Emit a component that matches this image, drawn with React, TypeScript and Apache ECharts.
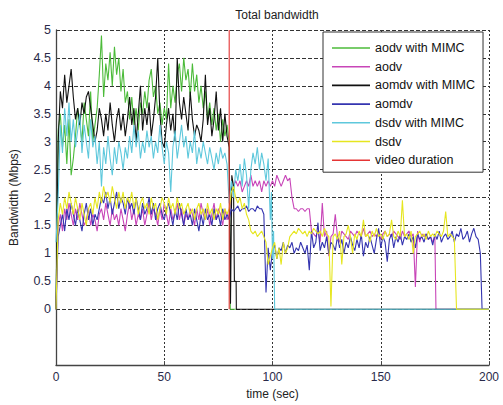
import { useEffect, useRef } from 'react';
import * as echarts from 'echarts';

// Throughput samples in Mbps, one value per second starting at t = 0 s.
const aodvMimcRate = [
  0, 3.2, 3.5, 2.9, 3.3, 2.6, 3.4, 2.4, 2.7, 3.1,
  3.6, 3.3, 3.0, 3.7, 3.4, 3.1, 3.9, 3.0, 3.3, 3.6,
  4.2, 4.9, 3.8, 4.4, 4.1, 4.6, 4.0, 4.7, 4.2, 4.5,
  3.9, 4.3, 3.7, 3.9, 3.4, 3.8, 3.3, 3.6, 3.2, 3.7,
  3.5, 3.9, 3.6, 4.1, 4.3, 3.8, 4.0, 3.5, 3.7, 3.3,
  3.6, 3.4, 4.4, 3.6, 4.0, 3.7, 4.2, 4.4, 3.9, 4.5,
  4.1, 4.3, 3.8, 4.4, 3.9, 4.2, 3.7, 4.0, 3.6, 3.9,
  3.4, 3.7, 3.3, 3.6, 3.2, 3.5, 3.0, 3.4, 3.1, 3.3,
  3.0,
];
const aodvMimcEnd = [[80.5, 0], [83, 0]];

const aodvRate = [
  0, 1.5, 1.7, 1.4, 1.8, 1.6, 1.9, 1.7, 1.5, 1.8,
  1.6, 1.9, 1.7, 1.5, 1.6, 1.8, 1.5, 1.7, 1.6, 1.4,
  1.7, 1.8, 1.6, 1.9, 1.7, 1.5, 1.8, 1.6, 1.7, 1.5,
  1.8, 1.6, 1.4, 1.7, 1.9, 1.6, 1.8, 1.5, 1.7, 1.6,
  1.8, 1.5, 1.7, 1.9, 1.6, 1.8, 1.7, 1.5, 1.8, 1.6,
  1.9, 1.7, 1.5, 1.8, 1.6, 1.7, 1.9, 1.6, 1.8, 1.5,
  1.7, 1.6, 1.8, 1.7, 1.5, 1.8, 1.6, 1.9, 1.7, 1.6,
  1.8, 1.5, 1.7, 1.9, 1.6, 1.8, 1.7, 1.5, 1.8, 1.6,
  1.7, 2.1, 2.2, 2.3, 2.2, 2.3, 2.1, 2.2, 2.3, 2.2,
  2.4, 2.2, 2.3, 2.2, 2.3, 2.1, 2.3, 2.2, 2.3, 2.2,
  2.3, 2.2, 2.4, 2.3, 2.2, 2.3, 2.4, 2.3, 2.35, 2.0,
  1.8, 1.8, 1.75, 1.8, 1.8, 1.75, 1.8, 1.8, 1.4, 1.35,
  1.3, 1.4, 1.2, 1.9, 1.3, 1.4, 0.95, 1.3, 1.35, 1.7,
  1.3, 1.2, 1.4, 1.35, 1.3, 1.25, 1.4, 1.35, 1.3, 1.4,
  1.35, 1.3, 1.45, 1.3, 1.35, 1.4, 1.3, 1.35, 1.3, 1.4,
  1.25, 1.35, 1.4, 1.3, 1.35, 1.3, 1.4, 1.35, 1.3, 1.25,
  1.4, 1.3, 1.35, 1.4, 1.3, 1.35, 0.4, 1.4, 1.2, 1.35,
  1.3, 1.35, 1.25, 1.3, 1.2, 1.3,
];
const aodvEnd = [[175.5, 0], [200, 0]];

const aomdvMimcRate = [
  0, 3.0, 3.9, 3.6, 4.2, 3.7, 4.0, 4.3, 3.8, 3.4,
  3.6, 3.3, 3.7, 3.5, 3.8, 3.9, 3.6, 3.3, 3.0, 3.2,
  3.6, 3.4, 3.1, 3.5, 3.2, 3.7, 3.3, 3.0, 3.4, 3.6,
  3.2, 3.5, 3.1, 3.4, 3.8, 3.3, 3.6, 3.0, 3.5, 4.0,
  3.2, 3.6, 3.3, 3.7, 3.1, 3.4, 3.8, 4.5, 3.5, 3.0,
  2.9, 3.3, 3.6, 3.2, 3.5, 3.0, 4.5, 3.7, 3.4, 3.8,
  3.5, 3.2, 3.9, 3.4, 3.1, 3.3, 3.2, 3.0, 3.4, 4.2,
  3.3, 3.6, 3.1, 3.4, 3.9, 3.2, 3.6, 3.0, 3.5, 3.1,
  2.9,
];
const aomdvMimcEnd = [[80.6, 0.1], [81.2, 2.4], [82, 2.2], [82.4, 0.5], [83.2, 0.5], [83.3, 0], [200, 0]];

const aomdvRate = [
  0, 1.3, 1.5, 1.7, 1.4, 1.8, 1.6, 1.9, 1.7, 1.5,
  1.8, 1.6, 1.4, 1.7, 1.9, 1.6, 1.8, 1.5, 1.7, 1.6,
  1.8, 2.0, 1.9, 2.1, 1.8, 2.0, 1.7, 1.9, 2.1, 1.8,
  2.0, 1.9, 1.7, 2.0, 1.8, 1.9, 1.7, 2.0, 1.8, 1.6,
  1.9, 1.7, 1.8, 2.0, 1.7, 1.9, 1.6, 1.8, 1.9, 1.7,
  1.6, 1.8, 1.9, 1.7, 1.5, 1.8, 1.6, 1.9, 1.7, 1.5,
  1.8, 1.6, 1.7, 1.5, 1.8, 1.6, 1.4, 1.7, 1.5, 1.8,
  1.6, 1.7, 1.5, 1.8, 1.6, 1.7, 1.5, 1.8, 1.6, 1.7,
  1.6, 1.8, 1.75, 1.8, 1.85, 1.75, 1.8, 1.8, 1.85, 1.75,
  1.8, 1.8, 1.75, 1.85, 1.8, 1.8, 1.7, 0.3, 1.1, 0.7,
  1.05, 1.15, 0.9, 1.1, 1.05, 1.2, 1.0, 1.15, 1.1, 1.2,
  1.0, 1.1, 1.05, 1.2, 1.1, 1.0, 1.15, 0.7, 1.4, 1.1,
  1.2, 1.55, 1.05, 1.2, 1.1, 1.3, 1.0, 1.2, 1.15, 1.05,
  1.3, 1.1, 1.25, 1.0, 1.2, 1.1, 1.3, 1.15, 1.05, 1.25,
  1.1, 1.35, 0.95, 1.2, 1.1, 1.3, 1.15, 1.0, 1.25, 1.45,
  1.1, 1.3, 1.2, 0.85, 1.25, 1.35, 1.1, 1.3, 1.2, 1.35,
  1.15, 1.3, 1.25, 1.35, 1.2, 1.3, 1.1, 1.35, 1.25, 1.3,
  1.2, 1.35, 1.25, 1.3, 1.15, 1.35, 1.25, 1.4, 1.2, 1.3,
  1.35, 1.25, 1.3, 1.4, 1.2, 1.35, 1.3, 1.45, 1.25, 1.3,
  1.4, 1.2, 1.35, 1.45, 1.3, 1.25, 1.0,
];
const aomdvEnd = [[196.8, 0], [200, 0]];

const dsdvMimcRate = [
  1.2, 2.0, 3.3, 2.8, 3.6, 3.1, 3.7, 3.0, 3.4, 2.9,
  3.2, 3.5, 2.8, 3.3, 3.0, 2.7, 3.4, 2.9, 3.1, 2.6,
  3.0, 2.2, 2.9, 2.6, 3.1, 2.7, 2.4, 2.9, 2.6, 3.0,
  2.8, 2.5, 2.9, 2.7, 3.1, 2.8, 3.3, 2.9, 3.2, 2.7,
  3.0, 2.8, 3.2, 2.9, 3.1, 2.7, 3.0, 2.8, 3.3, 2.9,
  2.6, 3.0, 2.8, 2.1, 2.9, 3.2, 2.7, 3.0, 3.3, 2.9,
  3.1, 2.7, 3.0, 2.8, 3.2, 2.6, 2.9, 2.7, 3.0, 2.8,
  2.6, 2.9, 2.7, 2.5, 2.8, 2.6, 2.9, 2.7, 2.8, 2.6,
  1.9, 2.3, 2.0, 2.5, 2.3, 2.6, 2.2, 2.7, 2.4, 1.8,
  2.5, 2.8, 2.6, 2.9, 2.5, 2.8, 2.6, 2.3, 2.7, 1.6,
];
const dsdvMimcEnd = [[99.5, 2.1], [100, 0.9], [100.5, 1.4], [101, 0], [200, 0]];

const dsdvRate = [
  0, 1.6, 1.9, 1.7, 2.0, 1.8, 2.1, 1.9, 1.7, 2.0,
  1.8, 1.6, 1.9, 1.7, 1.5, 1.8, 1.9, 1.7, 2.0, 1.8,
  2.1, 1.9, 2.2, 2.0, 2.1, 1.9, 2.2, 2.0, 1.8, 2.1,
  1.9, 2.1, 1.8, 2.0, 1.9, 2.1, 1.8, 2.0, 1.7, 1.9,
  2.0, 1.8, 1.9, 1.7, 2.0, 1.8, 1.9, 1.6, 1.8, 2.0,
  1.9, 1.7, 2.0, 1.8, 1.9, 1.7, 2.0, 1.8, 1.9, 1.7,
  1.8, 1.9, 1.7, 1.8, 1.6, 1.8, 1.9, 1.7, 1.8, 1.6,
  1.9, 1.7, 1.8, 1.6, 1.8, 1.7, 1.9, 1.6, 1.8, 1.7,
  1.8, 2.1, 2.2, 2.0, 1.9, 2.0, 1.8, 1.9, 1.7, 1.6,
  1.4, 1.35, 1.4, 1.3, 1.35, 1.4, 1.3, 1.2, 0.8, 0.95,
  1.1, 1.2, 0.9, 1.1, 0.8, 1.2, 1.0, 1.1, 1.3, 1.35,
  1.4, 1.35, 1.45, 1.4, 1.35, 1.4, 1.3, 1.4, 1.35, 1.45,
  1.4, 1.35, 1.4, 1.3, 1.45, 1.35, 1.3, 0.05, 1.3, 1.35,
  1.25, 1.4, 0.8, 1.3, 1.35, 1.5, 1.3, 1.0, 1.35, 1.25,
  1.4, 1.3, 1.6, 1.3, 1.35, 1.2, 1.4, 1.3, 1.45, 1.3,
  1.35, 1.25, 1.4, 1.3, 1.35, 1.6, 1.3, 1.25, 1.4, 1.3,
  1.95, 1.3, 1.35, 1.25, 1.4, 1.0, 1.3, 1.35, 1.4, 1.3,
  1.35, 1.25, 1.4, 1.3, 1.35, 1.3, 1.4, 1.35, 1.3, 1.4,
  1.75, 1.3, 1.35, 1.3, 1.25,
];
const dsdvEnd = [[185, 0], [200, 0]];

// Vertical marker at the end of the video stream (t = 80 s).
const videoDuration = [[80, 0], [80, 5]];

const seriesNames = [
  'aodv with MIMC', 'aodv', 'aomdv with MIMC', 'aomdv',
  'dsdv with MIMC', 'dsdv', 'video duration',
];
const seriesColors = ['#4cbb3a', '#c845b8', '#111111', '#3535b0', '#5ec8dc', '#e6e620', '#e53535'];

const xTickStep = 50;
const yTickStep = 0.5;

const perSecond = (vals: number[]) => vals.map((v, i) => [i, v]);

const FONT = 'Liberation Sans, Arial, sans-serif';

export default function App() {
  const ref = useRef<HTMLDivElement>(null);

  useEffect(() => {
    if (!ref.current) return;
    const chart = echarts.init(ref.current, undefined, { renderer: 'svg' });

    const seriesData = [
      [...perSecond(aodvMimcRate), ...aodvMimcEnd],
      [...perSecond(aodvRate), ...aodvEnd],
      [...perSecond(aomdvMimcRate), ...aomdvMimcEnd],
      [...perSecond(aomdvRate), ...aomdvEnd],
      [...perSecond(dsdvMimcRate), ...dsdvMimcEnd],
      [...perSecond(dsdvRate), ...dsdvEnd],
      videoDuration,
    ];

    // 13 y ticks from -1 to 5: no grid lines below zero.
    const hGridColors = ['rgba(0,0,0,0)', 'rgba(0,0,0,0)'];
    for (let i = 0; i < 11; i++) hGridColors.push('#333');

    chart.setOption({
      animation: false,
      backgroundColor: '#ffffff',
      title: {
        text: 'Total bandwidth',
        left: 272,
        textAlign: 'center',
        top: 4,
        textStyle: { fontFamily: FONT, fontSize: 12, fontWeight: 'normal', color: '#222' },
      },
      grid: { left: 56, right: 14, top: 30, bottom: 35 },
      legend: {
        orient: 'vertical',
        left: 323,
        top: 32,
        data: seriesNames,
        icon: 'rect',
        backgroundColor: '#ffffff',
        borderColor: '#333',
        borderWidth: 1,
        borderRadius: 0,
        padding: [9, 8, 5, 9],
        itemGap: 4.7,
        itemWidth: 38,
        itemHeight: 1.6,
        textStyle: { fontFamily: FONT, fontSize: 12.5, color: '#111', lineHeight: 14 },
      },
      xAxis: {
        type: 'value',
        min: 0,
        max: 200,
        interval: xTickStep,
        name: 'time (sec)',
        nameLocation: 'middle',
        nameGap: 19,
        nameTextStyle: { fontFamily: FONT, fontSize: 12, color: '#222' },
        axisLine: { show: true, onZero: false, lineStyle: { color: '#444', width: 1.3 } },
        axisTick: { show: true, inside: true, length: 4, lineStyle: { color: '#444' } },
        axisLabel: { fontFamily: FONT, fontSize: 12, color: '#2a2a4a', margin: 6 },
        splitLine: { show: true, lineStyle: { color: '#333', type: [2, 2], width: 1 } },
      },
      yAxis: {
        type: 'value',
        min: -1,
        max: 5,
        interval: yTickStep,
        name: 'Bandwidth (Mbps)',
        nameLocation: 'middle',
        nameGap: 36,
        nameTextStyle: { fontFamily: FONT, fontSize: 12, color: '#222' },
        axisLine: { show: true, onZero: false, lineStyle: { color: '#444', width: 1.3 } },
        axisTick: { show: false },
        axisLabel: {
          fontFamily: FONT,
          fontSize: 12.5,
          color: '#2a2a4a',
          margin: 5,
          formatter: (v: number) => (v < 0 ? '' : String(v)),
        },
        splitLine: { show: true, lineStyle: { color: hGridColors, type: [4, 2], width: 1 } },
      },
      series: seriesNames.map((name, i) => ({
        name,
        type: 'line',
        data: seriesData[i],
        symbol: 'none',
        color: seriesColors[i],
        itemStyle: { color: seriesColors[i] },
        lineStyle: { color: seriesColors[i], width: 1.1 },
        silent: true,
      })),
    });

    return () => chart.dispose();
  }, []);

  return (
    <div
      ref={ref}
      style={{ position: 'absolute', left: 0, top: 0, width: 503, height: 405, background: '#fff' }}
    />
  );
}
